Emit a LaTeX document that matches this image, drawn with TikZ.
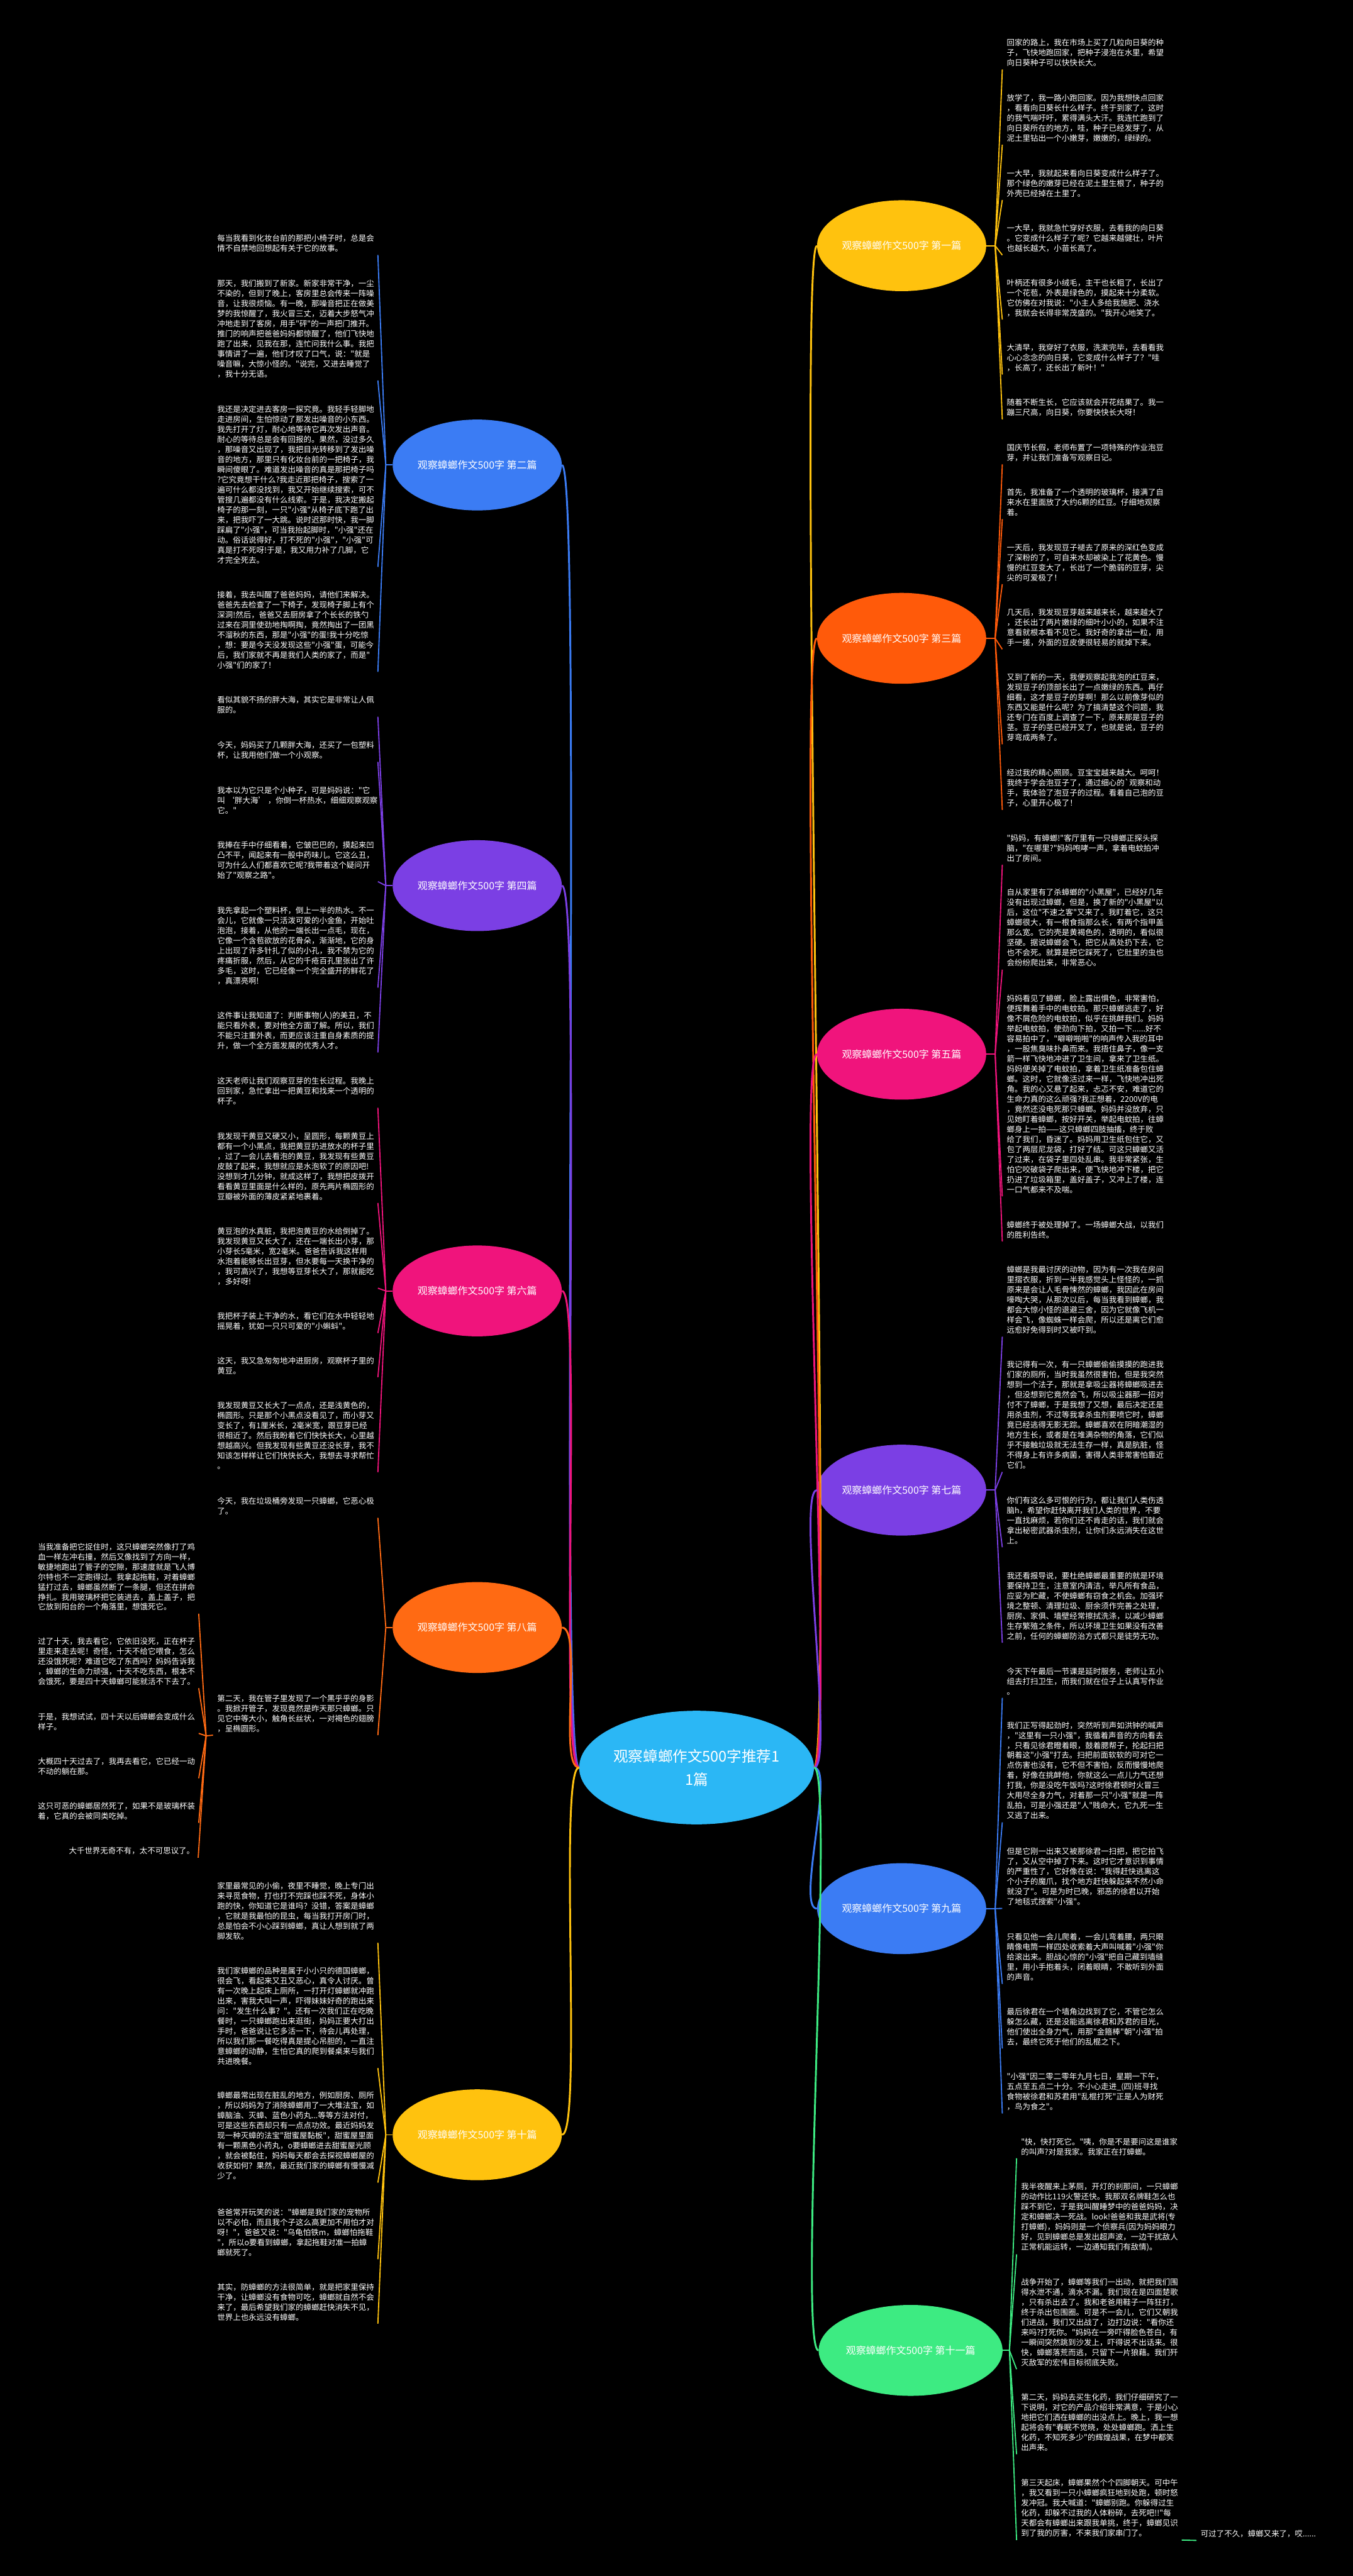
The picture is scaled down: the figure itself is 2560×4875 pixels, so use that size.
\documentclass[tikz,border=0pt]{standalone}
\usepackage{fontspec}
\newfontfamily\cjk{Noto Sans CJK SC}
\usetikzlibrary{shapes.geometric,calc}
\definecolor{cYel}{HTML}{FFC20E}
\definecolor{cBlue}{HTML}{3B7CF4}
\definecolor{cOrg}{HTML}{FF5A0A}
\definecolor{cOrg2}{HTML}{FF6A13}
\definecolor{cPur}{HTML}{7B3FE4}
\definecolor{cPink}{HTML}{F0147C}
\definecolor{cGrn}{HTML}{3DEB82}
\definecolor{cCyan}{HTML}{2BB7F5}
\newcommand\rlnk[3]{\draw[#1,sub] (#2) -- ($(#3.south west)+(-8.5,5.5)$);}
\newcommand\llnk[3]{\draw[#1,sub] (#2) -- ($(#3.south east)+(7,5.5)$);}
\begin{document}
\begin{tikzpicture}[x=1pt,y=-1pt,
  txt/.style={anchor=north west,inner sep=0pt,outer sep=0pt,align=left,text=white,font=\cjk\fontsize{14.85pt}{19.04pt}\selectfont},
  txtr/.style={txt,anchor=north east,align=right},
  br/.style={ellipse,minimum width=320pt,minimum height=172pt,inner sep=0pt,text=white,font=\cjk\fontsize{19pt}{23pt}\selectfont},
  conn/.style={line width=3.5pt},
  sub/.style={line width=2.2pt}]
\fill[black] (0,0) rectangle (2560,4875);
\useasboundingbox (0,0) rectangle (2560,4875);

% ---------------- centre and branches
\node[ellipse,fill=cCyan,minimum width=440pt,minimum height=215pt,inner sep=0pt,text=white,align=center,font=\cjk\fontsize{28pt}{44pt}\selectfont] (c) at (1318,3345) {观察蟑螂作文500字推荐1\\1篇};

\node[br,fill=cYel] (b1) at (1706,465) {观察蟑螂作文500字 第一篇};
\node[br,fill=cOrg] (b3) at (1706,1208) {观察蟑螂作文500字 第三篇};
\node[br,fill=cPink] (b5) at (1706,1995) {观察蟑螂作文500字 第五篇};
\node[br,fill=cPur] (b7) at (1706,2820) {观察蟑螂作文500字 第七篇};
\node[br,fill=cBlue] (b9) at (1706,3612) {观察蟑螂作文500字 第九篇};
\node[br,fill=cGrn,minimum width=348pt] (b11) at (1723,4448) {观察蟑螂作文500字 第十一篇};
\node[br,fill=cBlue] (b2) at (903,880) {观察蟑螂作文500字 第二篇};
\node[br,fill=cPur] (b4) at (903,1676) {观察蟑螂作文500字 第四篇};
\node[br,fill=cPink] (b6) at (903,2443) {观察蟑螂作文500字 第六篇};
\node[br,fill=cOrg2] (b8) at (903,3080) {观察蟑螂作文500字 第八篇};
\node[br,fill=cYel] (b10) at (903,4040) {观察蟑螂作文500字 第十篇};

\draw[cYel,conn] (c.east) .. controls +(40,0) and +(-40,0) .. (b1.west);
\draw[cOrg,conn] (c.east) .. controls +(40,0) and +(-40,0) .. (b3.west);
\draw[cPink,conn] (c.east) .. controls +(40,0) and +(-40,0) .. (b5.west);
\draw[cPur,conn] (c.east) .. controls +(40,0) and +(-40,0) .. (b7.west);
\draw[cBlue,conn] (c.east) .. controls +(40,0) and +(-40,0) .. (b9.west);
\draw[cGrn,conn] (c.east) .. controls +(40,0) and +(-40,0) .. (b11.west);
\draw[cBlue,conn] (c.west) .. controls +(-40,0) and +(40,0) .. (b2.east);
\draw[cPur,conn] (c.west) .. controls +(-40,0) and +(40,0) .. (b4.east);
\draw[cPink,conn] (c.west) .. controls +(-40,0) and +(40,0) .. (b6.east);
\draw[cOrg2,conn] (c.west) .. controls +(-40,0) and +(40,0) .. (b8.east);
\draw[cYel,conn] (c.west) .. controls +(-40,0) and +(40,0) .. (b10.east);

% junction points
\coordinate (k1) at (1883,465);
\coordinate (k3) at (1883,1208);
\coordinate (k5) at (1883,1995);
\coordinate (k7) at (1883,2820);
\coordinate (k9) at (1883,3612);
\coordinate (k11) at (1910,4448);
\coordinate (k2) at (730,880);
\coordinate (k4) at (730,1676);
\coordinate (k6) at (730,2443);
\coordinate (k8) at (730,3080);
\coordinate (k10) at (730,4040);
\coordinate (k12) at (390,3285);

% ---------------- right column: 第一篇
\node[txt] (r1a) at (1905,74) {回家的路上，我在市场上买了几粒向日葵的种\\子，飞快地跑回家，把种子浸泡在水里，希望\\向日葵种子可以快快长大。};
\node[txt] (r1b) at (1905,178) {放学了，我一路小跑回家。因为我想快点回家\\，看看向日葵长什么样子。终于到家了，这时\\的我气喘吁吁，累得满头大汗。我连忙跑到了\\向日葵所在的地方，哇，种子已经发芽了，从\\泥土里钻出一个小嫩芽，嫩嫩的，绿绿的。};
\node[txt] (r1c) at (1905,321) {一大早，我就起来看向日葵变成什么样子了。\\那个绿色的嫩芽已经在泥土里生根了，种子的\\外壳已经掉在土里了。};
\node[txt] (r1d) at (1905,425) {一大早，我就急忙穿好衣服，去看我的向日葵\\。它变成什么样子了呢？它越来越健壮，叶片\\也越长越大，小苗长高了。};
\node[txt] (r1e) at (1905,528) {叶柄还有很多小绒毛，主干也长粗了，长出了\\一个花苞，外表是绿色的，摸起来十分柔软。\\它仿佛在对我说："小主人多给我施肥、浇水\\，我就会长得非常茂盛的。"我开心地笑了。};
\node[txt] (r1f) at (1905,651) {大清早，我穿好了衣服，洗漱完毕，去看看我\\心心念念的向日葵，它变成什么样子了？"哇\\，长高了，还长出了新叶！"};
\node[txt] (r1g) at (1905,755) {随着不断生长，它应该就会开花结果了。我一\\蹦三尺高，向日葵，你要快快长大呀！};
\draw[cYel,sub] (b1.east) -- (k1);
\foreach \n in {r1a,r1b,r1c,r1d,r1e,r1f,r1g} {\rlnk{cYel}{k1}{\n}}

% ---------------- 第三篇
\node[txt] (r3a) at (1905,840) {国庆节长假，老师布置了一项特殊的作业泡豆\\芽，并让我们准备写观察日记。};
\node[txt] (r3b) at (1905,925) {首先，我准备了一个透明的玻璃杯，接满了自\\来水在里面放了大约6颗的红豆。仔细地观察\\着。};
\node[txt] (r3c) at (1905,1029) {一天后，我发现豆子褪去了原来的深红色变成\\了深粉的了，可自来水却被染上了花黄色。慢\\慢的红豆变大了，长出了一个脆弱的豆芽，尖\\尖的可爱极了！};
\node[txt] (r3d) at (1905,1152) {几天后，我发现豆芽越来越来长，越来越大了\\，还长出了两片嫩绿的细叶小小的，如果不注\\意看就根本看不见它。我好奇的拿出一粒，用\\手一搓，外面的豆皮便很轻易的就掉下来。};
\node[txt] (r3e) at (1905,1275) {又到了新的一天，我便观察起我泡的红豆来，\\发现豆子的顶部长出了一点嫩绿的东西。再仔\\细看，这才是豆子的芽啊！那么以前像芽似的\\东西又能是什么呢？为了搞清楚这个问题，我\\还专门在百度上调查了一下，原来那是豆子的\\茎。豆子的茎已经开叉了，也就是说，豆子的\\芽弯成两条了。};
\node[txt] (r3f) at (1905,1456) {经过我的精心照顾。豆宝宝越来越大。呵呵！\\我终于学会泡豆子了，通过细心的`观察和动\\手，我体验了泡豆子的过程。看着自己泡的豆\\子，心里开心极了！};
\draw[cOrg,sub] (b3.east) -- (k3);
\foreach \n in {r3a,r3b,r3c,r3d,r3e,r3f} {\rlnk{cOrg}{k3}{\n}}

% ---------------- 第五篇
\node[txt] (r5a) at (1905,1579) {"妈妈，有蟑螂!"客厅里有一只蟑螂正探头探\\脑，"在哪里?"妈妈咆哮一声，拿着电蚊拍冲\\出了房间。};
\node[txt] (r5b) at (1905,1682) {自从家里有了杀蟑螂的"小黑屋"，已经好几年\\没有出现过蟑螂，但是，换了新的"小黑屋"以\\后，这位"不速之客"又来了。我盯着它，这只\\蟑螂很大，有一根食指那么长，有两个指甲盖\\那么宽。它的壳是黄褐色的，透明的，看似很\\坚硬。据说蟑螂会飞，把它从高处扔下去，它\\也不会死。就算是把它踩死了，它肚里的虫也\\会纷纷爬出来，非常恶心。};
\node[txt] (r5c) at (1905,1883) {妈妈看见了蟑螂，脸上露出惧色，非常害怕，\\便挥舞着手中的电蚊拍。那只蟑螂逃走了，好\\像不屑危险的电蚊拍，似乎在挑衅我们。妈妈\\举起电蚊拍，使劲向下拍，又拍一下......好不\\容易拍中了，"噼噼啪啪"的响声传入我的耳中\\，一股焦臭味扑鼻而来。我捂住鼻子，像一支\\箭一样飞快地冲进了卫生间，拿来了卫生纸。\\妈妈便关掉了电蚊拍，拿着卫生纸准备包住蟑\\螂。这时，它就像活过来一样，飞快地冲出死\\角。我的心又悬了起来，忐忑不安，难道它的\\生命力真的这么顽强?我正想着，2200V的电\\，竟然还没电死那只蟑螂。妈妈并没放弃，只\\见她盯着蟑螂，按好开关，举起电蚊拍，往蟑\\螂身上一拍——这只蟑螂四肢抽搐，终于败\\给了我们，昏迷了。妈妈用卫生纸包住它，又\\包了两层尼龙袋，打好了结。可这只蟑螂又活\\了过来，在袋子里四处乱串。我非常紧张，生\\怕它咬破袋子爬出来，便飞快地冲下楼，把它\\扔进了垃圾箱里，盖好盖子，又冲上了楼，连\\一口气都来不及喘。};
\node[txt] (r5d) at (1905,2311) {蟑螂终于被处理掉了。一场蟑螂大战，以我们\\的胜利告终。};
\draw[cPink,sub] (b5.east) -- (k5);
\foreach \n in {r5a,r5b,r5c,r5d} {\rlnk{cPink}{k5}{\n}}

% ---------------- 第七篇
\node[txt] (r7a) at (1905,2396) {蟑螂是我最讨厌的动物，因为有一次我在房间\\里摺衣服，折到一半我感觉头上怪怪的，一抓\\原来是会让人毛骨悚然的蟑螂，我因此在房间\\嚎啕大哭，从那次以后，每当我看到蟑螂，我\\都会大惊小怪的退避三舍，因为它就像飞机一\\样会飞，像蜘蛛一样会爬，所以还是离它们愈\\远愈好免得到时又被吓到。};
\node[txt] (r7b) at (1905,2576) {我记得有一次，有一只蟑螂偷偷摸摸的跑进我\\们家的厕所，当时我虽然很害怕，但是我突然\\想到一个法子，那就是拿吸尘器将蟑螂吸进去\\，但没想到它竟然会飞，所以吸尘器那一招对\\付不了蟑螂，于是我想了又想，最后决定还是\\用杀虫剂，不过等我拿杀虫剂要喷它时，蟑螂\\竟已经逃得无影无踪。蟑螂喜欢在阴暗潮湿的\\地方生长，或者是在堆满杂物的角落，它们似\\乎不接触垃圾就无法生存一样，真是肮脏，怪\\不得身上有许多病菌，害得人类非常害怕靠近\\它们。};
\node[txt] (r7c) at (1905,2833) {你们有这么多可恨的行为，都让我们人类伤透\\脑h，希望你赶快离开我们人类的世界，不要\\一直找麻烦，若你们还不肯走的话，我们就会\\拿出秘密武器杀虫剂，让你们永远消失在这世\\上。};
\node[txt] (r7d) at (1905,2975) {我还看报导说，要杜绝蟑螂最重要的就是环境\\要保持卫生，注意室内清洁，举凡所有食品，\\应妥为贮藏，不使蟑螂有窃食之机会。加强环\\境之整顿、清理垃圾、厨余须作完善之处理，\\厨房、家俱、墙壁经常擦拭洗涤，以减少蟑螂\\生存繁殖之条件，所以环境卫生如果没有改善\\之前，任何的蟑螂防治方式都只是徒劳无功。};
\draw[cPur,sub] (b7.east) -- (k7);
\foreach \n in {r7a,r7b,r7c,r7d} {\rlnk{cPur}{k7}{\n}}

% ---------------- 第九篇
\node[txt] (r9a) at (1905,3156) {今天下午最后一节课是延时服务，老师让五小\\组去打扫卫生，而我们就在位子上认真写作业\\。};
\node[txt] (r9b) at (1905,3258) {我们正写得起劲时，突然听到声如洪钟的喊声\\，"这里有一只小强"，我循着声音的方向看去\\，只看见徐君瞪着眼，鼓着腮帮子，抡起扫把\\朝着这"小强"打去。扫把前面软软的可对它一\\点伤害也没有，它不但不害怕，反而慢慢地爬\\着，好像在挑衅他，你就这么一点儿力气还想\\打我，你是没吃午饭吗?这时徐君顿时火冒三\\大用尽全身力气，对着那一只"小强"就是一阵\\乱拍，可是小强还是"人"贱命大，它九死一生\\又逃了出来。};
\node[txt] (r9c) at (1905,3497) {但是它刚一出来又被那徐君一扫把，把它拍飞\\了，又从空中掉了下来。这时它才意识到事情\\的严重性了，它好像在说："我得赶快逃离这\\个小子的魔爪，找个地方赶快躲起来不然小命\\就没了"。可是为时已晚，邪恶的徐君以开始\\了地毯式搜索"小强"。};
\node[txt] (r9d) at (1905,3659) {只看见他一会儿爬着，一会儿弯着腰，两只眼\\睛像电筒一样四处收索着大声叫喊着"小强"你\\给滚出来。胆战心惊的"小强"把自己藏到墙缝\\里，用小手抱着头，闭着眼睛，不敢听到外面\\的声音。};
\node[txt] (r9e) at (1905,3800) {最后徐君在一个墙角边找到了它，不管它怎么\\躲怎么藏，还是没能逃离徐君和苏君的目光，\\他们使出全身力气，用那"金箍棒"朝"小强"拍\\去，最终它死于他们的乱棍之下。};
\node[txt] (r9f) at (1905,3923) {"小强"因二零二零年九月七日，星期一下午，\\五点至五点二十分。不小心走进\_(四)班寻找\\食物被徐君和苏君用"乱棍打死"正是人为财死\\，鸟为食之"。};
\draw[cBlue,sub] (b9.east) -- (k9);
\foreach \n in {r9a,r9b,r9c,r9d,r9e,r9f} {\rlnk{cBlue}{k9}{\n}}

% ---------------- 第十一篇
\node[txt] (r11a) at (1932,4046) {"快，快打死它。"咦，你是不是要问这是谁家\\的叫声?对是我家。我家正在打蟑螂。};
\node[txt] (r11b) at (1932,4131) {我半夜醒来上茅厕，开灯的刹那间，一只蟑螂\\的动作比119火警还快。我那双名牌鞋怎么也\\踩不到它，于是我叫醒睡梦中的爸爸妈妈，决\\定和蟑螂决一死战。look!爸爸和我是武将(专\\打蟑螂)，妈妈则是一个侦察兵(因为妈妈眼力\\好，见到蟑螂总是发出超声波，一边干扰敌人\\正常机能运转，一边通知我们有敌情)。};
\node[txt] (r11c) at (1932,4312) {战争开始了，蟑螂等我们一出动，就把我们围\\得水泄不通，滴水不漏。我们现在是四面楚歌\\，只有杀出去了。我和老爸用鞋子一阵狂打，\\终于杀出包围圈。可是不一会儿，它们又朝我\\们进战，我们又出战了，边打边说："看你还\\来吗?打死你。"妈妈在一旁吓得脸色苍白，有\\一瞬间突然跳到沙发上，吓得说不出话来。很\\快，蟑螂落荒而逃，只留下一片狼藉。我们歼\\灭敌军的宏伟目标彻底失败。};
\node[txt] (r11d) at (1932,4530) {第二天，妈妈去买生化药，我们仔细研究了一\\下说明，对它的产品介绍非常满意，于是小心\\地把它们洒在蟑螂的出没点上。晚上，我一想\\起将会有"春眠不觉晓，处处蟑螂跑。洒上生\\化药，不知死多少"的辉煌战果，在梦中都笑\\出声来。};
\node[txt] (r11e) at (1932,4692) {第三天起床，蟑螂果然个个四脚朝天。可中午\\，我又看到一只小蟑螂疯狂地到处跑，顿时怒\\发冲冠。我大喊道："蟑螂别跑。你躲得过生\\化药，却躲不过我的人体粉碎，去死吧!!"每\\天都会有蟑螂出来跟我单挑，终于，蟑螂见识\\到了我的厉害，不来我们家串门了。};
\node[txt] (r11f) at (2272,4788) {可过了不久，蟑螂又来了，哎......};
\draw[cGrn,sub] (b11.east) -- (k11);
\foreach \n in {r11a,r11b,r11c,r11d,r11e} {\rlnk{cGrn}{k11}{\n}}
\draw[cGrn,sub] ($(r11e.south east)+(7,5.5)$) -- ($(r11f.south west)+(-8,5.5)$);

% ---------------- left column: 第二篇
\node[txt] (l2a) at (411,444) {每当我看到化妆台前的那把小椅子时，总是会\\情不自禁地回想起有关于它的故事。};
\node[txt] (l2b) at (411,529) {那天，我们搬到了新家。新家非常干净，一尘\\不染的，但到了晚上，客房里总会传来一阵噪\\音，让我很烦恼。有一晚，那噪音把正在做美\\梦的我惊醒了，我火冒三丈，迈着大步怒气冲\\冲地走到了客房，用手"砰"的一声把门推开。\\推门的响声把爸爸妈妈都惊醒了，他们飞快地\\跑了出来，见我在那，连忙问我什么事。我把\\事情讲了一遍，他们才叹了口气，说："就是\\噪音嘛，大惊小怪的。"说完，又进去睡觉了\\，我十分无语。};
\node[txt] (l2c) at (411,768) {我还是决定进去客房一探究竟。我轻手轻脚地\\走进房间，生怕惊动了那发出噪音的小东西。\\我先打开了灯，耐心地等待它再次发出声音。\\耐心的等待总是会有回报的。果然，没过多久\\，那噪音又出现了，我把目光转移到了发出噪\\音的地方，那里只有化妆台前的一把椅子，我\\瞬间傻眼了。难道发出噪音的真是那把椅子吗\\?它究竟想干什么?我走近那把椅子，搜索了一\\遍可什么都没找到，我又开始继续搜索，可不\\管搜几遍都没有什么线索。于是，我决定搬起\\椅子的那一刻，一只"小强"从椅子底下跑了出\\来，把我吓了一大跳。说时迟那时快，我一脚\\踩扁了"小强"，可当我抬起脚时，"小强"还在\\动。俗话说得好，打不死的"小强"，"小强"可\\真是打不死呀!于是，我又用力补了几脚，它\\才完全死去。};
\node[txt] (l2d) at (411,1119) {接着，我去叫醒了爸爸妈妈，请他们来解决。\\爸爸先去检查了一下椅子，发现椅子脚上有个\\深洞!然后，爸爸又去厨房拿了个长长的铁勺\\过来在洞里使劲地掏啊掏，竟然掏出了一团黑\\不溜秋的东西，那是"小强"的蛋!我十分吃惊\\，想：要是今天没发现这些"小强"蛋，可能今\\后，我们家就不再是我们人类的家了，而是"\\小强"们的家了！};
\draw[cBlue,sub] (b2.west) -- (k2);
\foreach \n in {l2a,l2b,l2c,l2d} {\llnk{cBlue}{k2}{\n}}

% ---------------- 第四篇
\node[txt] (l4a) at (411,1318) {看似其貌不扬的胖大海，其实它是非常让人佩\\服的。};
\node[txt] (l4b) at (411,1403) {今天，妈妈买了几颗胖大海，还买了一包塑料\\杯，让我用他们做一个小观察。};
\node[txt] (l4c) at (411,1489) {我本以为它只是个小种子，可是妈妈说："它\\叫 ‘胖大海’ ，你倒一杯热水，细细观察观察\\它。"};
\node[txt] (l4d) at (411,1592) {我捧在手中仔细看着，它皱巴巴的，摸起来凹\\凸不平，闻起来有一股中药味儿。它这么丑，\\可为什么人们都喜欢它呢?我带着这个疑问开\\始了"观察之路"。};
\node[txt] (l4e) at (411,1716) {我先拿起一个塑料杯，倒上一半的热水。不一\\会儿，它就像一只活泼可爱的小金鱼，开始吐\\泡泡，接着，从他的一端长出一点毛，现在，\\它像一个含苞欲放的花骨朵，渐渐地，它的身\\上出现了许多针扎了似的小孔，我不禁为它的\\疼痛折服，然后，从它的千疮百孔里张出了许\\多毛，这时，它已经像一个完全盛开的鲜花了\\，真漂亮啊!};
\node[txt] (l4f) at (411,1915) {这件事让我知道了：判断事物(人)的美丑，不\\能只看外表，要对他全方面了解。所以，我们\\不能只注重外表，而更应该注重自身素质的提\\升，做一个全方面发展的优秀人才。};
\draw[cPur,sub] (b4.west) -- (k4);
\foreach \n in {l4a,l4b,l4c,l4d,l4e,l4f} {\llnk{cPur}{k4}{\n}}

% ---------------- 第六篇
\node[txt] (l6a) at (411,2039) {这天老师让我们观察豆芽的生长过程。我晚上\\回到家，急忙拿出一把黄豆和找来一个透明的\\杯子。};
\node[txt] (l6b) at (411,2143) {我发现干黄豆又硬又小，呈圆形，每颗黄豆上\\都有一个小黑点，我把黄豆扔进放水的杯子里\\，过了一会儿去看泡的黄豆，我发现有些黄豆\\皮鼓了起来，我想就应是水泡软了的原因吧!\\没想到才几分钟，就成这样了，我想把皮拨开\\看看黄豆里面是什么样的，原先两片椭圆形的\\豆瓣被外面的薄皮紧紧地裹着。};
\node[txt] (l6c) at (411,2323) {黄豆泡的水真脏，我把泡黄豆的水给倒掉了。\\我发现黄豆又长大了，还在一端长出小芽，那\\小芽长5毫米，宽2毫米。爸爸告诉我这样用\\水泡着能够长出豆芽，但水要每一天换干净的\\，我可高兴了，我想等豆芽长大了，那就能吃\\，多好呀!};
\node[txt] (l6d) at (411,2484) {我把杯子装上干净的水，看它们在水中轻轻地\\摇晃着，犹如一只只可爱的"小蝌蚪"。};
\node[txt] (l6e) at (411,2568) {这天，我又急匆匆地冲进厨房，观察杯子里的\\黄豆。};
\node[txt] (l6f) at (411,2653) {我发现黄豆又长大了一点点，还是浅黄色的，\\椭圆形。只是那个小黑点没看见了，而小芽又\\变长了，有1厘米长，2毫米宽，跟豆芽已经\\很相近了。然后我盼着它们快快长大，心里越\\想越高兴。但我发现有些黄豆还没长芽，我不\\知该怎样样让它们快快长大，我想去寻求帮忙\\。};
\draw[cPink,sub] (b6.west) -- (k6);
\foreach \n in {l6a,l6b,l6c,l6d,l6e,l6f} {\llnk{cPink}{k6}{\n}}

% ---------------- 第八篇
\node[txt] (l8a) at (411,2834) {今天，我在垃圾桶旁发现一只蟑螂，它恶心极\\了。};
\node[txt] (l8b) at (411,3207) {第二天，我在管子里发现了一个黑乎乎的身影\\。我掀开管子，发现竟然是昨天那只蟑螂。只\\见它中等大小，触角长丝状，一对褐色的翅膀\\，呈椭圆形。};
\draw[cOrg2,sub] (b8.west) -- (k8);
\foreach \n in {l8a,l8b} {\llnk{cOrg2}{k8}{\n}}

\node[txt] (m1) at (72,2920) {当我准备把它捉住时，这只蟑螂突然像打了鸡\\血一样左冲右撞，然后又像找到了方向一样，\\敏捷地跑出了管子的空隙，那速度就是飞人博\\尔特也不一定跑得过。我拿起拖鞋，对着蟑螂\\猛打过去，蟑螂虽然断了一条腿，但还在拼命\\挣扎。我用玻璃杯把它装进去，盖上盖子，把\\它放到阳台的一个角落里，想饿死它。};
\node[txt] (m2) at (72,3099) {过了十天，我去看它，它依旧没死，正在杯子\\里走来走去呢！奇怪，十天不给它喂食，怎么\\还没饿死呢？难道它吃了东西吗？妈妈告诉我\\，蟑螂的生命力顽强，十天不吃东西，根本不\\会饿死，要是四十天蟑螂可能就活不下去了。};
\node[txt] (m3) at (72,3242) {于是，我想试试，四十天以后蟑螂会变成什么\\样子。};
\node[txt] (m4) at (72,3327) {大概四十天过去了，我再去看它，它已经一动\\不动的躺在那。};
\node[txt] (m5) at (72,3411) {这只可恶的蟑螂居然死了，如果不是玻璃杯装\\着，它真的会被同类吃掉。};
\node[txtr] (m6) at (368,3496) {大千世界无奇不有，太不可思议了。};
\draw[cOrg2,sub] ($(l8b.south west)+(-8,5.5)$) -- (k12);
\foreach \n in {m1,m2,m3,m4,m5,m6} {\llnk{cOrg2}{k12}{\n}}

% ---------------- 第十篇
\node[txt] (l10a) at (411,3562) {家里最常见的小偷，夜里不睡觉，晚上专门出\\来寻觅食物，打也打不完踩也踩不死，身体小\\跑的快，你知道它是谁吗？没错，答案是蟑螂\\，它就是我最怕的昆虫，每当我打开房门时，\\总是怕会不小心踩到蟑螂，真让人想到就了两\\脚发软。};
\node[txt] (l10b) at (411,3723) {我们家蟑螂的品种是属于小小只的德国蟑螂，\\很会飞，看起来又丑又恶心，真令人讨厌。曾\\有一次晚上起床上厕所，一打开灯蟑螂就冲跑\\出来，害我大叫一声，吓得妹妹好奇的跑出来\\问："发生什么事？"。还有一次我们正在吃晚\\餐时，一只蟑螂跑出来逛街，妈妈正要大打出\\手时，爸爸说让它多活一下，待会儿再处理，\\所以我们那一餐吃得真是提心吊胆的，一直注\\意蟑螂的动静，生怕它真的爬到餐桌来与我们\\共进晚餐。};
\node[txt] (l10c) at (411,3959) {蟑螂最常出现在脏乱的地方，例如厨房、厕所\\，所以妈妈为了消除蟑螂用了一大堆法宝，如\\蟑脑油、灭蟑、蓝色小药丸...等等方法对付，\\可是这些东西却只有一点点功效。最近妈妈发\\现一种灭蟑的法宝"甜蜜屋黏板"，甜蜜屋里面\\有一颗黑色小药丸，o要蟑螂进去甜蜜屋光顾\\，就会被黏住，妈妈每天都会去探视蟑螂屋的\\收获如何？果然，最近我们家的蟑螂有慢慢减\\少了。};
\node[txt] (l10d) at (411,4180) {爸爸常开玩笑的说："蟑螂是我们家的宠物所\\以不必怕，而且我个子这么高更加不用怕才对\\呀！"，爸爸又说："乌龟怕铁m，蟑螂怕拖鞋\\"，所以o要看到蟑螂，拿起拖鞋对准一拍蟑\\螂就死了。};
\node[txt] (l10e) at (411,4321) {其实，防蟑螂的方法很简单，就是把家里保持\\干净，让蟑螂没有食物可吃，蟑螂就自然不会\\来了，最后希望我们家的蟑螂赶快消失不见，\\世界上也永远没有蟑螂。};
\draw[cYel,sub] (b10.west) -- (k10);
\foreach \n in {l10a,l10b,l10c,l10d,l10e} {\llnk{cYel}{k10}{\n}}
\end{tikzpicture}
\end{document}
